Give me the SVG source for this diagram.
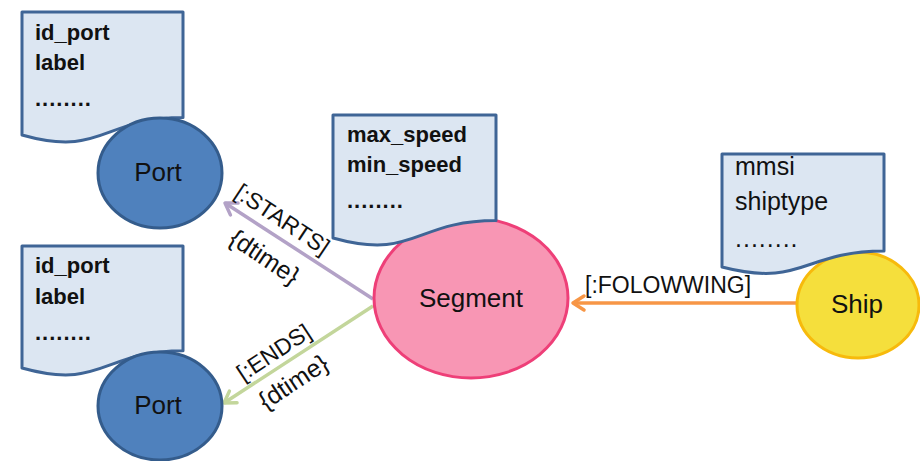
<svg xmlns="http://www.w3.org/2000/svg" width="920" height="461" viewBox="0 0 920 461">
  <style>
    .doc { fill: #DCE6F2; stroke: #3F6596; stroke-width: 3; stroke-linejoin: round; }
    .doctxt { font-family: "Liberation Sans", Arial, sans-serif; font-size: 22px; font-weight: bold; fill: #111; }
    .doctxt2 { font-family: "Liberation Sans", Arial, sans-serif; font-size: 25px; fill: #111; }
    .dots { letter-spacing: 1px; }
    .port { fill: #4F81BD; stroke: #345C8C; stroke-width: 3; }
    .seg { fill: #F896B4; stroke: #EE3F78; stroke-width: 3; }
    .ship { fill: #F5DF3C; stroke: #F7BA0C; stroke-width: 3; }
    .name { font-family: "Liberation Sans", Arial, sans-serif; font-size: 26px; fill: #111; text-anchor: middle; }
    .lbl { font-family: "Liberation Sans", Arial, sans-serif; font-size: 23px; fill: #111; }
    .prop { font-size: 25px; }
    .edge { fill: none; stroke-width: 3.5; }
  </style>
  <defs>
    <marker id="arrPurple" markerUnits="userSpaceOnUse" markerWidth="20" markerHeight="20" refX="0" refY="0" orient="auto" overflow="visible">
      <path d="M-11,-7 L0,0 L-11,7" fill="none" stroke="#B3A2C7" stroke-width="3.5" stroke-linecap="round" stroke-linejoin="round"/>
    </marker>
    <marker id="arrGreen" markerUnits="userSpaceOnUse" markerWidth="20" markerHeight="20" refX="0" refY="0" orient="auto" overflow="visible">
      <path d="M-11,-7 L0,0 L-11,7" fill="none" stroke="#C3D69B" stroke-width="3.5" stroke-linecap="round" stroke-linejoin="round"/>
    </marker>
    <marker id="arrOrange" markerUnits="userSpaceOnUse" markerWidth="20" markerHeight="20" refX="0" refY="0" orient="auto" overflow="visible">
      <path d="M-11,-7 L0,0 L-11,7" fill="none" stroke="#F79646" stroke-width="3.5" stroke-linecap="round" stroke-linejoin="round"/>
    </marker>
  </defs>

  <!-- relationships -->
  <g id="connectors">
    <path class="edge" d="M373,299 L225,203" stroke="#B3A2C7" marker-end="url(#arrPurple)"/>
    <path class="edge" d="M373,306 L224,403" stroke="#C3D69B" marker-end="url(#arrGreen)"/>
    <path class="edge" d="M797,303 L573,303" stroke="#F79646" marker-end="url(#arrOrange)"/>
    <text class="lbl" text-anchor="middle" transform="translate(278,226) rotate(33.7)">[:STARTS]</text>
    <text class="lbl prop" text-anchor="middle" transform="translate(260,264) rotate(33.7)">{dtime}</text>
    <text class="lbl" text-anchor="middle" transform="translate(278,359) rotate(-33.3)">[:ENDS]</text>
    <text class="lbl prop" text-anchor="middle" transform="translate(298,389) rotate(-33.3)">{dtime}</text>
    <text class="lbl" x="585" y="293">[:FOLOWWING]</text>
  </g>

  <!-- Port (top) with its property sheet -->
  <g id="port-top">
    <path class="doc" d="M22,12 L183,12 L183,117.6 C102.5,117.6 102.5,157.8 22,135 Z"/>
    <text class="doctxt" x="35" y="40">id_port</text>
    <text class="doctxt" x="35" y="70">label</text>
    <text class="doctxt dots" x="35" y="106">........</text>
    <ellipse class="port" cx="160" cy="173" rx="62" ry="55"/>
    <text class="name" x="158" y="181">Port</text>
  </g>

  <!-- Port (bottom) with its property sheet -->
  <g id="port-bottom">
    <path class="doc" d="M22,246 L183,246 L183,350.7 C102.5,350.7 102.5,390.6 22,368 Z"/>
    <text class="doctxt" x="35" y="273">id_port</text>
    <text class="doctxt" x="35" y="304">label</text>
    <text class="doctxt dots" x="35" y="340">........</text>
    <ellipse class="port" cx="160" cy="406" rx="62" ry="54"/>
    <text class="name" x="158" y="414">Port</text>
  </g>

  <!-- Segment with its property sheet -->
  <g id="segment">
    <ellipse class="seg" cx="471" cy="298" rx="97" ry="80"/>
    <path class="doc" d="M333,115 L496,115 L496,220.6 C414.5,220.6 414.5,260.8 333,238 Z"/>
    <text class="doctxt" x="347" y="142">max_speed</text>
    <text class="doctxt" x="347" y="172">min_speed</text>
    <text class="doctxt dots" x="347" y="208">........</text>
    <text class="name" x="471" y="307">Segment</text>
  </g>

  <!-- Ship with its property sheet -->
  <g id="ship">
    <ellipse class="ship" cx="858" cy="305" rx="61" ry="53"/>
    <path class="doc" d="M722,154 L884,154 L884,251 C803,251 803,288 722,267 Z"/>
    <text class="doctxt2" x="735" y="175">mmsi</text>
    <text class="doctxt2" x="735" y="210">shiptype</text>
    <text class="doctxt2 dots" x="735" y="247">........</text>
    <text class="name" x="857" y="313">Ship</text>
  </g>
</svg>
